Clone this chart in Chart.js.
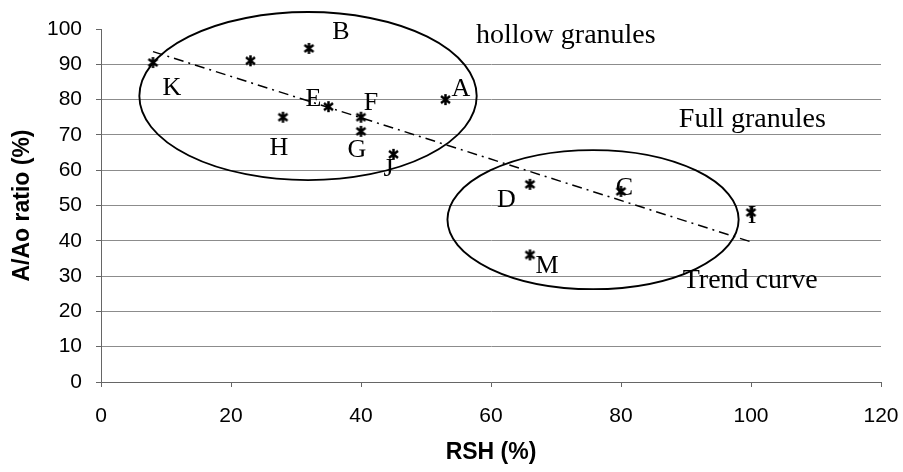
<!DOCTYPE html>
<html>
<head>
<meta charset="utf-8">
<script src="https://cdn.jsdelivr.net/npm/chart.js@4/dist/chart.umd.min.js"></script>
<style>
  body { margin: 0; background: #fff; }
  #wrap { width: 903px; height: 472px; }
</style>
</head>
<body>
<div id="wrap"><canvas id="chart" width="903" height="472"></canvas></div>
<script>
// samples: RSH (%) against A/Ao ratio (%)
const sampleNames = ["K", "", "B", "H", "E", "F", "G", "J", "A", "D", "C", "I", "M"];
const rsh = [8, 23, 32, 28, 35, 40, 40, 45, 53, 66, 80, 100, 66];
const ratio = [90.5, 91, 94.5, 75, 78, 75, 71, 64.5, 80, 56, 54, 48, 36];

// trend curve end points
const trendX = [8, 100];
const trendY = [93.6, 39.7];

const xTicks = [0, 20, 40, 60, 80, 100, 120];
const yTicks = [0, 10, 20, 30, 40, 50, 60, 70, 80, 90, 100];

// circled groups (centre and half-axes in axis units)
const groupCx = [31.85, 75.7];
const groupCy = [81, 46];
const groupRx = [25.95, 22.4];
const groupRy = [23.8, 19.7];

// free text notes, placed in axis units (left edge, baseline)
const noteTexts = ["hollow granules", "Full granules", "Trend curve"];
const noteX = [57.7, 88.9, 89.5];
const noteY = [96, 72.2, 26.6];

// where each letter sits relative to its point, px (centre x, baseline y)
const nameShift = [
  [19, 32.5], [0, 0], [32, -9], [-4, 38], [-15, -1], [10, -7], [-4, 26],
  [-5, 22], [15.5, -4], [-23.5, 23], [3.5, 4], [1, 10], [17, 18]
];

const sans = '"Liberation Sans", Arial, sans-serif';
const serif = '"Liberation Serif", "Times New Roman", serif';

// asterisk marker
function starMark() {
  const c = document.createElement("canvas");
  c.width = 13;
  c.height = 13;
  const g = c.getContext("2d");
  g.strokeStyle = "#000";
  g.lineWidth = 2.5;
  g.beginPath();
  g.moveTo(6.5, 1); g.lineTo(6.5, 12);
  g.moveTo(2, 3); g.lineTo(11, 10);
  g.moveTo(2, 10); g.lineTo(11, 3);
  g.stroke();
  return c;
}

const notesPlugin = {
  id: "notes",
  afterDatasetsDraw(chart) {
    const { ctx } = chart;
    const x = chart.scales.x;
    const y = chart.scales.y;
    ctx.save();

    ctx.strokeStyle = "#000";
    ctx.lineWidth = 1.9;
    groupCx.forEach((cx, i) => {
      const px = x.getPixelForValue(cx);
      const py = y.getPixelForValue(groupCy[i]);
      const rx = x.getPixelForValue(cx + groupRx[i]) - px;
      const ry = py - y.getPixelForValue(groupCy[i] + groupRy[i]);
      ctx.beginPath();
      ctx.ellipse(px, py, rx, ry, 0, 0, Math.PI * 2);
      ctx.stroke();
    });

    ctx.fillStyle = "#000";
    ctx.textBaseline = "alphabetic";
    ctx.font = "26px " + serif;
    ctx.textAlign = "center";
    chart.getDatasetMeta(0).data.forEach((p, i) => {
      if (!sampleNames[i]) return;
      ctx.fillText(sampleNames[i], p.x + nameShift[i][0], p.y + nameShift[i][1]);
    });

    ctx.font = "28px " + serif;
    ctx.textAlign = "left";
    noteTexts.forEach((t, i) => {
      ctx.fillText(t, x.getPixelForValue(noteX[i]), y.getPixelForValue(noteY[i]));
    });
    ctx.restore();
  }
};

new Chart(document.getElementById("chart"), {
  type: "scatter",
  data: {
    datasets: [
      {
        data: rsh.map((v, i) => ({ x: v, y: ratio[i] })),
        pointStyle: starMark(),
        pointRadius: 6,
        showLine: false
      },
      {
        type: "line",
        data: trendX.map((v, i) => ({ x: v, y: trendY[i] })),
        borderColor: "#000",
        borderWidth: 1.5,
        borderDash: [10, 5, 2, 5],
        pointRadius: 0,
        fill: false,
        tension: 0
      }
    ]
  },
  options: {
    responsive: false,
    animation: false,
    devicePixelRatio: 1,
    layout: { padding: { top: 29, right: 22, left: 0, bottom: 0 } },
    plugins: {
      legend: { display: false },
      tooltip: { enabled: false }
    },
    scales: {
      x: {
        type: "linear",
        min: 0,
        max: 120,
        afterBuildTicks: (s) => { s.ticks = xTicks.map((v) => ({ value: v })); },
        afterFit: (s) => {
          s.height = 90;
          s.paddingLeft = 0;
          s.paddingRight = 0;
        },
        grid: { drawOnChartArea: false, tickLength: 5, tickColor: "#666" },
        border: { color: "#666", width: 1 },
        ticks: { padding: 17, color: "#000", font: { family: sans, size: 21 } },
        title: {
          display: true,
          text: "RSH (%)",
          color: "#000",
          font: { family: sans, size: 23, weight: "bold" },
          padding: { top: 0, bottom: 6 }
        }
      },
      y: {
        type: "linear",
        min: 0,
        max: 100,
        afterBuildTicks: (s) => { s.ticks = yTicks.map((v) => ({ value: v })); },
        afterFit: (s) => { s.width = 101; },
        grid: {
          color: (c) => (c.tick && c.tick.value === 100 ? "rgba(0,0,0,0)" : "#8c8c8c"),
          tickLength: 5,
          tickColor: "#666"
        },
        border: { color: "#666", width: 1 },
        ticks: { padding: 14, color: "#000", font: { family: sans, size: 21 } },
        title: {
          display: true,
          text: "A/Ao ratio (%)",
          color: "#000",
          font: { family: sans, size: 23, weight: "bold" },
          padding: { top: 9, bottom: 0 }
        }
      }
    }
  },
  plugins: [notesPlugin]
});
</script>
</body>
</html>
